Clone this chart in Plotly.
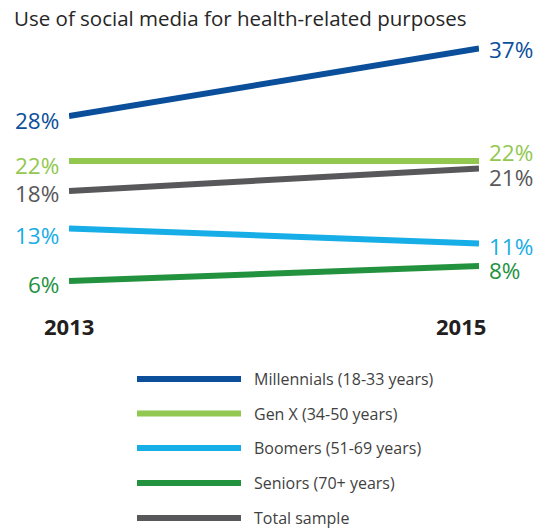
import plotly.graph_objects as go

years = [2013, 2015]
series_names = ["Millennials (18-33 years)", "Gen X (34-50 years)", "Boomers (51-69 years)",
                "Seniors (70+ years)", "Total sample"]
millennials = [28, 37]
gen_x = [22, 22]
boomers = [13, 11]
seniors = [6, 8]
total = [18, 21]

colors = ["#0b4f9b", "#92c84f", "#17ade6", "#22923f", "#58585a"]
values = [millennials, gen_x, boomers, seniors, total]
# label vertical nudges (style): left, right
left_shift = [-4, -4, -6, -3, -2]
right_shift = [0, 9, -2, -4, -8]

FONT = "Open Sans"
fig = go.Figure()
annotations = []
shapes = []

for name, vals, col in zip(series_names, values, colors):
    fig.add_trace(go.Scatter(x=years, y=vals, mode="lines", name=name,
                             line=dict(color=col, width=6), showlegend=False,
                             hoverinfo="skip"))

for i, (vals, col) in enumerate(zip(values, colors)):
    annotations.append(dict(x=years[0], y=vals[0], xref="x", yref="y", text=f"{vals[0]}%",
                            showarrow=False, xanchor="right", yanchor="middle",
                            xshift=-8, yshift=left_shift[i], height=24,
                            font=dict(family=FONT, size=22.5, color=col)))
    annotations.append(dict(x=years[1], y=vals[1], xref="x", yref="y", text=f"{vals[1]}%",
                            showarrow=False, xanchor="left", yanchor="middle",
                            xshift=8, yshift=right_shift[i], height=22,
                            font=dict(family=FONT, size=22.5, color=col)))

# year labels
for yr, xs in zip(years, [0, -18]):
    annotations.append(dict(x=yr, y=0, xref="x", yref="paper", text=f"<b>{yr}</b>",
                            showarrow=False, xanchor="center", yanchor="middle",
                            xshift=xs, yshift=0,
                            font=dict(family=FONT, size=22, color="#231f20")))

# manual legend
plot_left, plot_w = 69, 410
plot_bottom, plot_h = 326, 300
def px_x(p):
    return (p - plot_left) / plot_w
def px_y(p):
    return (plot_bottom - p) / plot_h

leg_y = [379, 413.5, 448, 483, 518]
for name, col, ly in zip(series_names, colors, leg_y):
    shapes.append(dict(type="line", xref="paper", yref="paper",
                       x0=px_x(137), x1=px_x(241), y0=px_y(ly), y1=px_y(ly),
                       line=dict(color=col, width=6)))
    annotations.append(dict(x=px_x(252), y=px_y(ly), xref="paper", yref="paper",
                            text=name, showarrow=False, xanchor="left", yanchor="middle",
                            font=dict(family=FONT, size=16, color="#3f3f3f")))

fig.update_layout(
    width=537, height=531,
    margin=dict(l=69, r=58, t=26, b=205),
    paper_bgcolor="white", plot_bgcolor="white",
    title=dict(text="Use of social media for health-related purposes",
               x=14 / 537, xref="container", xanchor="left",
               y=1 - 19 / 531, yref="container", yanchor="middle",
               font=dict(family=FONT, size=20.5, color="#262626")),
    xaxis=dict(range=[2013, 2015], visible=False),
    yaxis=dict(range=[0, 40], visible=False),
    annotations=annotations,
    shapes=shapes,
)
fig.write_html("out.html", config={"displayModeBar": False},
               post_script="document.body.style.margin='0';document.body.style.overflow='hidden';")
